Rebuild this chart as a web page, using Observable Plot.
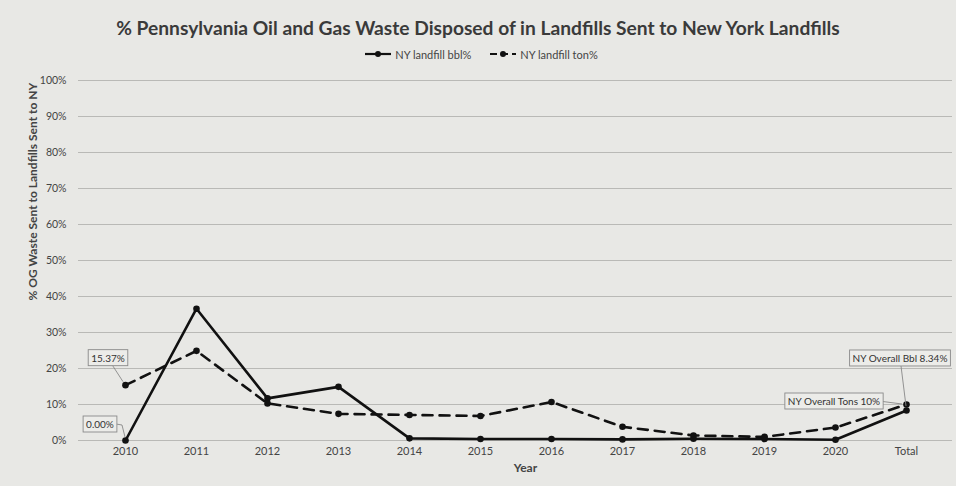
<!DOCTYPE html>
<html>
<head>
<meta charset="utf-8">
<script src="https://cdn.jsdelivr.net/npm/d3@7"></script>
<script src="https://cdn.jsdelivr.net/npm/@observablehq/plot@0.6"></script>
<style>
  html, body { margin: 0; padding: 0; background: #e8e8e5; }
  body { width: 956px; height: 486px; overflow: hidden; font-family: Lato, "Open Sans", sans-serif; color: #333; }
  #title { height: 42px; line-height: 22px; padding-top: 17px; box-sizing: border-box; text-align: center; font-size: 19.2px; font-weight: bold; color: #3a3a3a; }
  #legend { height: 24px; display: flex; justify-content: center; align-items: center; font-size: 11px; color: #444; gap: 18px; padding-left: 6px; box-sizing: border-box; }
  #legend .item { display: flex; align-items: center; gap: 3px; }
</style>
</head>
<body>
<div id="title">% Pennsylvania Oil and Gas Waste Disposed of in Landfills Sent to New York Landfills</div>
<div id="legend"></div>
<div id="chart"></div>
<script>
// Data (percent values)
const categories = ["2010", "2011", "2012", "2013", "2014", "2015", "2016", "2017", "2018", "2019", "2020", "Total"];
const bblPct = [0, 36.6, 11.7, 14.9, 0.6, 0.4, 0.4, 0.3, 0.5, 0.4, 0.2, 8.34];
const tonPct = [15.37, 24.9, 10.3, 7.4, 7.1, 6.8, 10.7, 3.8, 1.4, 1.0, 3.6, 10];
const seriesNames = ["NY landfill bbl%", "NY landfill ton%"];
const yTicks = [0, 10, 20, 30, 40, 50, 60, 70, 80, 90, 100];

// Annotation labels
const annoCategory = ["2010", "2010", "Total", "Total"];
const annoSeries = ["ton", "bbl", "bbl", "ton"];
const annoText = ["15.37%", "0.00%", "NY Overall Bbl 8.34%", "NY Overall Tons 10%"];

const rows = categories.flatMap((c, i) => [
  {cat: c, series: "bbl", value: bblPct[i]},
  {cat: c, series: "ton", value: tonPct[i]}
]);
const valueOf = (cat, s) => (s === "bbl" ? bblPct : tonPct)[categories.indexOf(cat)];

const font = "Lato, 'Open Sans', sans-serif";
const plot = Plot.plot({
  width: 956,
  height: 420,
  marginLeft: 78,
  marginRight: 4,
  marginTop: 14,
  marginBottom: 46,
  style: {background: "transparent", fontFamily: font, fontSize: "11px", color: "#444"},
  x: {type: "point", domain: categories, padding: 0.6},
  y: {domain: [0, 100]},
  marks: [
    Plot.gridY(yTicks, {stroke: "#b9b9b6", strokeOpacity: 1, strokeWidth: 1}),
    Plot.axisY(yTicks, {tickSize: 0, tickPadding: 12, tickFormat: d => d + "%", label: null, fontSize: 10.5}),
    Plot.axisX({tickSize: 0, tickPadding: 7, label: null, fontSize: 11}),
    Plot.text(["Year"], {frameAnchor: "bottom", dx: 10, dy: 31, fontWeight: "bold", fontSize: 12, fill: "#444"}),
    Plot.text(["% OG Waste Sent to Landfills Sent to NY"], {frameAnchor: "left", rotate: -90, dx: -45, dy: 40, fontWeight: "bold", fontSize: 12, fill: "#444"}),
    Plot.line(rows.filter(d => d.series === "ton"), {x: "cat", y: "value", stroke: "#111", strokeWidth: 2.6, strokeDasharray: "10,7"}),
    Plot.line(rows.filter(d => d.series === "bbl"), {x: "cat", y: "value", stroke: "#111", strokeWidth: 2.6}),
    Plot.dot(rows, {x: "cat", y: "value", r: 3.3, fill: "#111", stroke: "none"})
  ]
});
document.getElementById("chart").appendChild(plot);

// Annotations (callout boxes with leader lines), positioned via Plot's scales
const sx = plot.scale("x"), sy = plot.scale("y");
const annoOffset = [[-17, -27], [-25, -16], [-6, -52], [-72, -3]];
const annoLeader = [
  [[-13, -20], [-2, -3]],
  [[-9, -16], [-3, -15], [0, -3]],
  [[-5, -44], [0, -4]],
  [[-27, -3], [-4, 0]]
];
const svg = d3.select(plot);
annoText.forEach((t, i) => {
  const px = sx.apply(annoCategory[i]);
  const py = sy.apply(valueOf(annoCategory[i], annoSeries[i]));
  const g = svg.append("g").attr("transform", `translate(${px},${py})`);
  g.append("path")
    .attr("d", d3.line()(annoLeader[i]))
    .attr("fill", "none").attr("stroke", "#888").attr("stroke-width", 0.9);
  const txt = g.append("text")
    .attr("x", annoOffset[i][0]).attr("y", annoOffset[i][1])
    .attr("text-anchor", "middle").attr("dominant-baseline", "central")
    .attr("font-family", font).attr("font-size", 10).attr("fill", "#333")
    .text(t);
  const bb = txt.node().getBBox();
  g.insert("rect", "text")
    .attr("x", bb.x - 3).attr("y", bb.y - 2)
    .attr("width", bb.width + 6).attr("height", bb.height + 4)
    .attr("fill", "#ecece9").attr("stroke", "#8a8a8a").attr("stroke-width", 0.9);
});

// Legend
const legend = d3.select("#legend");
seriesNames.forEach((name, i) => {
  const item = legend.append("div").attr("class", "item");
  const s = item.append("svg").attr("width", 28).attr("height", 10);
  s.append("line").attr("x1", 1).attr("x2", 27).attr("y1", 5).attr("y2", 5)
    .attr("stroke", "#111").attr("stroke-width", 2.2)
    .attr("stroke-dasharray", i === 1 ? "7,4" : null);
  s.append("circle").attr("cx", 14).attr("cy", 5).attr("r", 3).attr("fill", "#111");
  item.append("span").text(name);
});
</script>
</body>
</html>
